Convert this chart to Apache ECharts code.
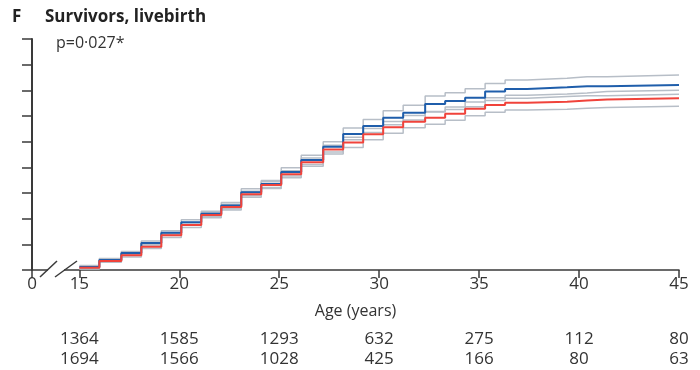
<!DOCTYPE html>
<html>
<head>
<meta charset="utf-8">
<script src="https://cdn.jsdelivr.net/npm/echarts@6/dist/echarts.min.js"></script>
<style>
  html, body { margin: 0; padding: 0; background: #fff; }
  #chart { width: 700px; height: 370px; }
</style>
</head>
<body>
<div id="chart"></div>
<script>
// ages where the curves step (years)
const stepAges = [15, 16, 17.1, 18.1, 19.1, 20.1, 21.1, 22.1, 23.1, 24.1, 25.1, 26.1, 27.2, 28.2, 29.2,
  30.2, 31.2, 32.3, 33.3, 34.3, 35.3, 36.3, 37.4, 39.4, 40.4, 41.4, 45];

// cumulative incidence (%), blue group with its confidence band
const blueVals = [1.2, 3.9, 6.6, 10.5, 14.5, 18.6, 21.9, 25.1, 30.3, 33.5, 38.2, 42.9, 48.0, 53.0, 56.1,
  59.3, 61.3, 64.7, 65.8, 67.1, 69.5, 70.5, 71.2, 71.6, 71.6, 72.1, 72.1];
const blueUpper = [1.8, 4.5, 7.2, 11.3, 15.3, 19.6, 22.9, 26.3, 31.7, 34.9, 39.8, 44.7, 50.0, 55.3, 58.6,
  62.0, 64.2, 67.8, 69.1, 70.6, 72.7, 74.0, 74.7, 75.3, 75.3, 76.0, 76.0];
const blueLower = [0.6, 3.3, 6.0, 9.7, 13.7, 17.6, 20.9, 23.9, 28.9, 32.1, 36.6, 41.1, 46.0, 50.7, 53.6,
  56.6, 58.4, 61.6, 62.5, 63.6, 66.0, 66.9, 67.6, 67.9, 67.9, 68.5, 68.5];

// red group with its confidence band
const redVals = [0.9, 3.5, 5.7, 9.1, 13.5, 17.5, 21.4, 24.5, 29.5, 33.1, 37.3, 42.0, 46.9, 49.7, 52.9,
  55.6, 57.8, 59.3, 60.9, 62.8, 64.3, 65.2, 65.6, 66.0, 66.4, 66.9, 66.9];
const redUpper = [1.4, 4.0, 6.3, 9.8, 14.3, 18.4, 22.4, 25.6, 30.7, 34.4, 38.7, 43.6, 48.6, 51.7, 55.1,
  57.9, 60.2, 61.8, 63.5, 65.5, 67.1, 68.1, 68.6, 69.0, 69.5, 70.0, 70.0];
const redLower = [0.4, 3.0, 5.1, 8.4, 12.7, 16.6, 20.4, 23.4, 28.3, 31.8, 35.9, 40.4, 45.2, 47.7, 50.7,
  53.3, 55.4, 56.8, 58.3, 60.1, 61.5, 62.3, 62.6, 63.0, 63.3, 63.8, 63.8];

// x axis ticks; 0 sits at the axis origin, before the break
const xTicks = [0, 15, 20, 25, 30, 35, 40, 45];
const axisOrigin = 12.63;

// numbers at risk
const riskAges = [15, 20, 25, 30, 35, 40, 45];
const riskRow1 = [1364, 1585, 1293, 632, 275, 112, 80];
const riskRow2 = [1694, 1566, 1028, 425, 166, 80, 63];

const FONT = 'Open Sans';
const AXIS_COLOR = '#3a3a3a';
const TEXT_COLOR = '#333';

function pairs(vals) {
  return stepAges.map((a, i) => [a, vals[i]]);
}

function riskAxis(row, offset) {
  return {
    type: 'value',
    position: 'bottom',
    min: axisOrigin,
    max: 45,
    offset: offset,
    axisLine: { show: false },
    axisTick: { show: false },
    splitLine: { show: false },
    axisLabel: {
      customValues: riskAges,
      margin: 0,
      fontFamily: FONT,
      fontSize: 17,
      color: TEXT_COLOR,
      formatter: function (v) {
        const i = riskAges.indexOf(v);
        return i >= 0 ? String(row[i]) : '';
      }
    }
  };
}

function stepLine(name, vals, color, width, z) {
  return {
    name: name,
    type: 'line',
    step: 'end',
    data: pairs(vals),
    showSymbol: false,
    z: z,
    lineStyle: { color: color, width: width },
    itemStyle: { color: color },
    emphasis: { disabled: true },
    silent: true
  };
}

const chart = echarts.init(document.getElementById('chart'));

const tickPositions = xTicks.map(t => (t === 0 ? axisOrigin : t));

const option = {
  animation: false,
  title: [
    {
      text: 'F', left: 7, top: 4,
      textStyle: { fontFamily: FONT, fontSize: 17, fontWeight: 'bold', color: '#222' }
    },
    {
      text: 'Survivors, livebirth', left: 40, top: 4,
      textStyle: { fontFamily: FONT, fontSize: 17, fontWeight: 'bold', color: '#222' }
    },
    {
      text: 'p=0·027*', left: 51, top: 30,
      textStyle: { fontFamily: FONT, fontSize: 16, fontWeight: 'normal', color: TEXT_COLOR }
    }
  ],
  grid: { left: 32, right: 21, top: 39, bottom: 100 },
  xAxis: [
    {
      type: 'value',
      min: axisOrigin,
      max: 45,
      name: 'Age (years)',
      nameLocation: 'middle',
      nameGap: 33,
      nameTextStyle: { fontFamily: FONT, fontSize: 16, color: TEXT_COLOR },
      axisLine: { onZero: false, lineStyle: { color: AXIS_COLOR, width: 1.5 } },
      axisTick: { customValues: tickPositions, length: 8, lineStyle: { color: AXIS_COLOR, width: 1.5 } },
      splitLine: { show: false },
      axisLabel: {
        customValues: tickPositions,
        margin: 6,
        fontFamily: FONT,
        fontSize: 17,
        color: TEXT_COLOR,
        formatter: function (v) {
          return v === axisOrigin ? '0' : String(v);
        }
      }
    },
    riskAxis(riskRow1, 61),
    riskAxis(riskRow2, 81)
  ],
  yAxis: {
    type: 'value',
    min: 0,
    max: 90,
    interval: 10,
    axisLine: { show: true, lineStyle: { color: AXIS_COLOR, width: 2 } },
    axisTick: { show: true, length: 10, lineStyle: { color: AXIS_COLOR, width: 1.5 } },
    axisLabel: { show: false },
    splitLine: { show: false }
  },
  series: [
    stepLine('blue upper', blueUpper, '#b7bec7', 1.5, 2),
    stepLine('blue lower', blueLower, '#b7bec7', 1.5, 2),
    stepLine('red upper', redUpper, '#b7bec7', 1.5, 2),
    stepLine('red lower', redLower, '#b7bec7', 1.5, 2),
    stepLine('blue', blueVals, '#1f5eab', 2, 3),
    stepLine('red', redVals, '#f0433b', 2, 4)
  ],
  // axis break mark between 0 and 15
  graphic: [
    { type: 'rect', shape: { x: 48, y: 267, width: 16, height: 6 }, style: { fill: '#fff' }, z: 100 },
    { type: 'line', shape: { x1: 40, y1: 277, x2: 57, y2: 261 }, style: { stroke: AXIS_COLOR, lineWidth: 1.5 }, z: 101 },
    { type: 'line', shape: { x1: 55, y1: 277, x2: 77, y2: 261 }, style: { stroke: AXIS_COLOR, lineWidth: 1.5 }, z: 101 }
  ]
};

chart.setOption(option);
window.addEventListener('resize', function () {
  chart.resize();
});
</script>
</body>
</html>
